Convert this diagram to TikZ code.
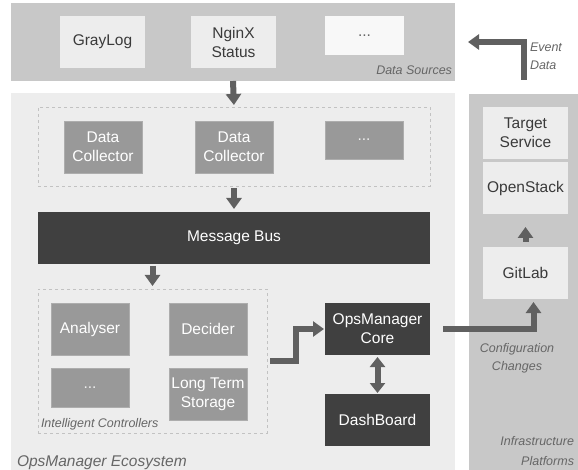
\documentclass[tikz,border=0pt]{standalone}
\usepackage{fontspec}
\setmainfont{Liberation Sans}
\usetikzlibrary{arrows.meta, calc}

\definecolor{panelgray}{HTML}{C8C8C8}
\definecolor{ecogray}{HTML}{EDEDED}
\definecolor{lightbox}{HTML}{EDEDED}
\definecolor{blankbox}{HTML}{F8F8F8}
\definecolor{midbox}{HTML}{999999}
\definecolor{darkbox}{HTML}{404040}
\definecolor{arrowgray}{HTML}{606060}
\definecolor{textgray}{HTML}{3A3A3A}
\definecolor{notegray}{HTML}{666666}
\definecolor{dashgray}{HTML}{C2C2C2}

\begin{document}
\begin{tikzpicture}[x=1pt, y=-1pt, every node/.style={inner sep=0pt, outer sep=0pt, align=center, anchor=north west}]
	\tikzstyle{panel}=[fill=panelgray]
	\tikzstyle{srcbox}=[
		fill=lightbox,
		text=textgray,
		minimum width=85pt,
		minimum height=52pt,
		font=\fontsize{15.5}{19}\selectfont
	]
	\tikzstyle{collbox}=[
		fill=midbox,
		draw=midbox!80!white,
		text=white,
		minimum width=78pt,
		minimum height=52pt,
		font=\fontsize{15.5}{19}\selectfont
	]
	\tikzstyle{darkbox}=[
		fill=darkbox,
		text=white,
		minimum width=105pt,
		minimum height=52pt,
		font=\fontsize{15.5}{19}\selectfont
	]
	\tikzstyle{group}=[draw=dashgray, dashed]
	\tikzstyle{note}=[text=notegray, font=\fontsize{12.5}{19}\itshape]
	\tikzstyle{flow}=[
		draw=arrowgray,
		line width=6pt,
		-{Triangle[length=11pt, width=15pt]}
	]

	\useasboundingbox (0,0) rectangle (578,470);

	% data sources
	\node (sources) [panel, minimum width=444pt, minimum height=78pt] at (11,3) {};
	\node (graylog) [srcbox] at (60,16) {GrayLog};
	\node (nginx) [srcbox] at (191,16) {NginX\\Status};
	\node (moresrc) [srcbox, fill=blankbox, text=notegray, minimum width=79pt, minimum height=39pt] at (325,16) {...};
	\node (srclabel) [note, anchor=base east] at (452,75) {Data Sources};

	% ecosystem
	\node (eco) [fill=ecogray, minimum width=444pt, minimum height=377pt] at (11,93) {};
	\node (collectors) [group, minimum width=392pt, minimum height=79pt] at (38,107) {};
	\node (coll1) [collbox] at (64,121) {Data\\Collector};
	\node (coll2) [collbox] at (195,121) {Data\\Collector};
	\node (morecoll) [collbox, text=white!85!midbox, minimum height=38pt] at (325,121) {...};
	\node (bus) [darkbox, minimum width=392pt] at (38,212) {Message Bus};

	\node (ctrls) [group, minimum width=229pt, minimum height=144pt] at (38,289) {};
	\node (analyser) [collbox] at (51,303) {Analyser};
	\node (decider) [collbox] at (169,303) {Decider};
	\node (morectrl) [collbox, text=white!85!midbox, minimum height=39pt] at (51,368) {...};
	\node (storage) [collbox] at (169,368) {Long Term\\Storage};
	\node (ctrllabel) [note, anchor=base west] at (41,427) {Intelligent Controllers};

	\node (core) [darkbox] at (325,303) {OpsManager\\Core};
	\node (board) [darkbox] at (325,394) {DashBoard};
	\node (ecolabel) [note, anchor=base west, font=\fontsize{15.5}{19}\itshape] at (17,466) {OpsManager Ecosystem};

	% infrastructure
	\node (infra) [panel, minimum width=109pt, minimum height=376pt] at (469,94) {};
	\node (target) [srcbox] at (483,107) {Target\\Service};
	\node (openstack) [srcbox] at (483,162) {OpenStack};
	\node (gitlab) [srcbox] at (483,247) {GitLab};
	\node (conflabel) [note, font=\fontsize{12.5}{18}\itshape, anchor=north] at (517,343) {Configuration\\Changes};
	\node (infralabel) [note, font=\fontsize{12.5}{20}\itshape, align=right, anchor=north east] at (574,436) {Infrastructure\\Platforms};
	\node (eventlabel) [note, align=left, font=\fontsize{12.5}{18}\itshape] at (530,43) {Event\\Data};

	% flows
	\draw [flow, shorten >=2pt] (sources.south) -- (collectors.north);
	\draw [flow, shorten <=2pt, shorten >=3pt] (collectors.south) -- (bus.north);
	\draw [flow, shorten <=2pt, shorten >=3pt] (bus.south -| ctrls.north) -- (ctrls.north);
	\draw [flow, shorten <=3pt, shorten >=1pt] (ctrls.east) -- ++(29,0) |- (core.west);
	\draw [flow, {Triangle[length=10pt, width=15pt]}-{Triangle[length=10pt, width=15pt]}, shorten <=2pt, shorten >=1pt] (core.south) -- (board.north);
	\draw [flow, shorten <=13pt, shorten >=3pt] (core.east) -| ([xshift=8pt]gitlab.south);
	\draw [flow, shorten <=5pt, shorten >=13pt] (gitlab.north) -- (openstack.south);
	\draw [flow, shorten <=14pt, shorten >=13pt] (infra.north) |- (sources.east);
\end{tikzpicture}
\end{document}
